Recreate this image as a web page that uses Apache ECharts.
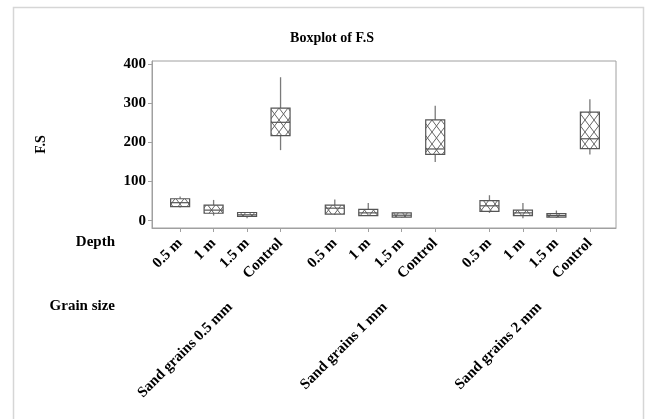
<!DOCTYPE html>
<html>
<head>
<meta charset="utf-8">
<script src="https://cdn.jsdelivr.net/npm/echarts@6.0.0/dist/echarts.min.js"></script>
<style>
  html, body { margin: 0; padding: 0; background: #fff; }
  #main { width: 646px; height: 419px; }
</style>
</head>
<body>
<div id="main"></div>
<script>
// depth levels inside each grain-size group
const depths = ['0.5 m', '1 m', '1.5 m', 'Control'];
const grainSizes = ['Sand grains 0.5 mm', 'Sand grains 1 mm', 'Sand grains 2 mm'];

// box statistics, 12 boxes (grain size x depth)
const fsMin    = [34, 13, 6, 180,   15, 12, 7, 150,   20, 6, 7, 169];
const fsQ1     = [36, 19, 11, 217,  17, 13, 9, 169,   24, 13, 9, 184];
const fsMedian = [46, 27, 15, 251,  32, 20, 14, 183,  38, 20, 13, 209];
const fsQ3     = [56, 40, 21, 287,  40, 29, 20, 257,  51, 27, 18, 277];
const fsMax    = [62, 53, 22, 366,  54, 45, 21, 293,  65, 45, 26, 310];

const yTicks = [0, 100, 200, 300, 400];

const font = 'Liberation Serif';
const groupGap = 0.62;

// x position of every box: groups separated by a gap
let positions = [];
for (let g = 0; g < grainSizes.length; g++) {
  for (let i = 0; i < depths.length; i++) {
    positions.push(g * (depths.length + groupGap) + i);
  }
}
let groupCenters = [];
for (let g = 0; g < grainSizes.length; g++) {
  groupCenters.push(g * (depths.length + groupGap) + (depths.length - 1) / 2);
}

let boxData = [];
for (let k = 0; k < positions.length; k++) {
  boxData.push([positions[k], fsMin[k], fsQ1[k], fsMedian[k], fsQ3[k], fsMax[k]]);
}

function nearestIndex(arr, v) {
  let best = 0;
  for (let i = 1; i < arr.length; i++) {
    if (Math.abs(arr[i] - v) < Math.abs(arr[best] - v)) best = i;
  }
  return best;
}

// crosshatch tile
function makeHatch() {
  const c = document.createElement('canvas');
  c.width = 9;
  c.height = 12;
  const ctx = c.getContext('2d');
  ctx.fillStyle = '#ffffff';
  ctx.fillRect(0, 0, 9, 12);
  ctx.strokeStyle = '#666666';
  ctx.lineWidth = 1;
  ctx.beginPath();
  ctx.moveTo(0, 0); ctx.lineTo(9, 12);
  ctx.moveTo(0, 12); ctx.lineTo(9, 0);
  ctx.stroke();
  return c;
}
const hatch = { image: makeHatch(), repeat: 'repeat' };

const chart = echarts.init(document.getElementById('main'));

const labelStyle = {
  fontFamily: font,
  fontWeight: 'bold',
  fontSize: 15,
  color: '#000'
};

chart.setOption({
  animation: false,
  title: {
    text: 'Boxplot of F.S',
    left: 327,
    top: 26,
    textAlign: 'center',
    textStyle: { fontFamily: font, fontWeight: 'bold', fontSize: 14, color: '#000' }
  },
  graphic: [
    {
      type: 'rect',
      shape: { x: 13.5, y: 7.5, width: 630, height: 420 },
      style: { fill: 'none', stroke: '#d6d6d6', lineWidth: 1.5 },
      silent: true
    },
    {
      type: 'text',
      x: 115, y: 242,
      style: { text: 'Depth', font: 'bold 15px "Liberation Serif"', fill: '#000', textAlign: 'right', textVerticalAlign: 'middle' }
    },
    {
      type: 'text',
      x: 115, y: 306,
      style: { text: 'Grain size', font: 'bold 15px "Liberation Serif"', fill: '#000', textAlign: 'right', textVerticalAlign: 'middle' }
    }
  ],
  grid: {
    left: 152, right: 30, top: 61, bottom: 191,
    show: true,
    borderColor: '#a0a0a0',
    borderWidth: 1
  },
  xAxis: [
    {
      type: 'value',
      min: -0.84,
      max: 13.02,
      splitLine: { show: false },
      axisLine: { show: true, onZero: false, lineStyle: { color: '#a0a0a0' } },
      axisTick: { show: true, customValues: positions, length: 4, lineStyle: { color: '#a0a0a0' } },
      axisLabel: Object.assign({
        customValues: positions,
        rotate: 45,
        margin: 13,
        formatter: function (v) { return depths[nearestIndex(positions, v) % depths.length]; }
      }, labelStyle)
    },
    {
      type: 'value',
      min: -0.84,
      max: 13.02,
      position: 'bottom',
      offset: 69,
      splitLine: { show: false },
      axisLine: { show: false, onZero: false },
      axisTick: { show: false },
      axisLabel: Object.assign({
        customValues: groupCenters,
        rotate: 45,
        margin: 8,
        formatter: function (v) { return grainSizes[nearestIndex(groupCenters, v)]; }
      }, labelStyle)
    }
  ],
  yAxis: {
    type: 'value',
    min: -18.6,
    max: 407.4,
    name: 'F.S',
    nameLocation: 'middle',
    nameRotate: 90,
    nameGap: 104,
    nameTextStyle: { fontFamily: font, fontWeight: 'bold', fontSize: 14, color: '#000' },
    splitLine: { show: false },
    axisLine: { show: true, onZero: false, lineStyle: { color: '#a0a0a0' } },
    axisTick: { show: true, customValues: yTicks, length: 4, lineStyle: { color: '#a0a0a0' } },
    axisLabel: Object.assign({ customValues: yTicks, margin: 6 }, labelStyle)
  },
  series: [{
    type: 'custom',
    xAxisIndex: 0,
    data: boxData,
    encode: { x: 0, y: [1, 2, 3, 4, 5] },
    renderItem: function (params, api) {
      const x = api.value(0);
      const pMin = api.coord([x, api.value(1)]);
      const pQ1 = api.coord([x, api.value(2)]);
      const pMed = api.coord([x, api.value(3)]);
      const pQ3 = api.coord([x, api.value(4)]);
      const pMax = api.coord([x, api.value(5)]);
      const half = 9.5;
      return {
        type: 'group',
        children: [
          {
            type: 'line',
            shape: { x1: pMax[0], y1: pMax[1], x2: pQ3[0], y2: pQ3[1] },
            style: { stroke: '#7a7a7a', lineWidth: 1.3 }
          },
          {
            type: 'line',
            shape: { x1: pMin[0], y1: pMin[1], x2: pQ1[0], y2: pQ1[1] },
            style: { stroke: '#7a7a7a', lineWidth: 1.3 }
          },
          {
            type: 'rect',
            shape: { x: pQ3[0] - half, y: pQ3[1], width: half * 2, height: pQ1[1] - pQ3[1] },
            style: { fill: hatch, stroke: '#555555', lineWidth: 1.2 }
          },
          {
            type: 'line',
            shape: { x1: pMed[0] - half, y1: pMed[1], x2: pMed[0] + half, y2: pMed[1] },
            style: { stroke: '#555555', lineWidth: 1.2 }
          }
        ]
      };
    }
  }]
});
</script>
</body>
</html>
